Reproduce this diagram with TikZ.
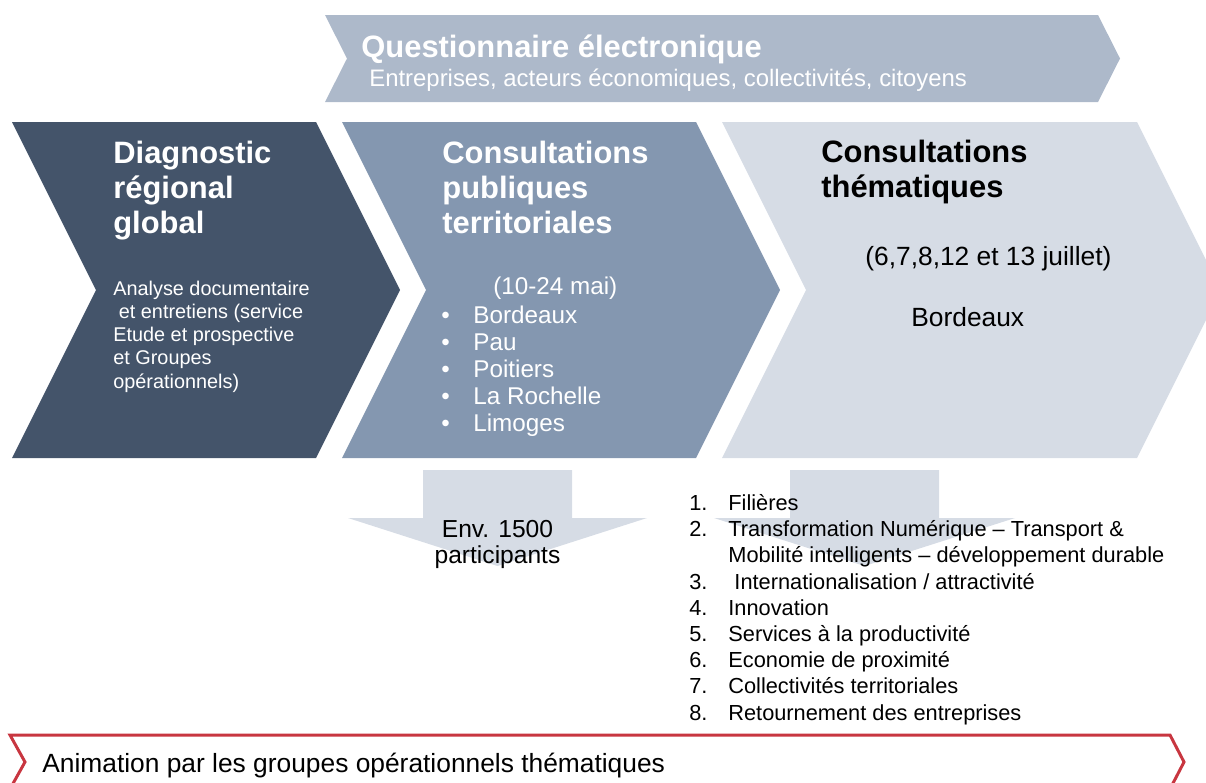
\documentclass[tikz,border=0pt]{standalone}
\usepackage{fontspec}
\setmainfont{Liberation Sans}

\definecolor{slatedark}{HTML}{44546A}
\definecolor{slatemid}{HTML}{8497B0}
\definecolor{slatepale}{HTML}{D6DCE5}
\definecolor{slatebanner}{HTML}{ADB9CA}
\definecolor{animred}{RGB}{200,54,64}

\begin{document}
\begin{tikzpicture}[x=0.02cm, y=-0.02cm,
  title/.style={font=\bfseries\fontsize{17.6}{19.8}\selectfont, align=left,
                anchor=base west, inner sep=0pt},
  body/.style={font=\fontsize{11.3}{13.2}\selectfont, align=left,
               anchor=base west, inner sep=0pt, text=white},
  city/.style={font=\fontsize{13.8}{15.3}\selectfont, anchor=base west,
               inner sep=0pt, text=white},
  theme/.style={font=\fontsize{12.4}{14.5}\selectfont, align=left,
                anchor=base west, inner sep=0pt},
  count/.style={font=\fontsize{14}{14.8}\selectfont, align=center,
                anchor=base, inner sep=0pt}
]
\useasboundingbox (0,0) rectangle (1206,782);
\clip (0,0) rectangle (1206,782);

% banner on top
\fill[slatebanner] (325,15) -- (1098,15) -- (1120,58.5) -- (1098,102)
  -- (325,102) -- (347,58.5) -- cycle;
\node[title, text=white] (quest) at (361,57) {Questionnaire électronique};
\node[font=\fontsize{13.6}{15}\selectfont, anchor=base west, inner sep=0pt,
  text=white] (questsub) at (369,86)
  {Entreprises, acteurs économiques, collectivités, citoyens};

% the three steps
\fill[slatedark] (12,122) -- (316,122) -- (400,290) -- (316,458)
  -- (12,458) -- (96,290) -- cycle;
\fill[slatemid] (342,122) -- (696,122) -- (780,290) -- (696,458)
  -- (342,458) -- (426,290) -- cycle;
\fill[slatepale] (722,122) -- (1137,122) -- (1221,290) -- (1137,458)
  -- (722,458) -- (806,290) -- cycle;

% step 1 (base = last line)
\node[title, text=white] (diag) at (113,233) {Diagnostic\\régional\\global};
\node[body] (diagtxt) at (113,388) {Analyse documentaire\\~et entretiens (service\\Etude et prospective\\et Groupes\\opérationnels)};

% step 2
\node[title, text=white] (consult) at (442,233) {Consultations\\publiques\\territoriales};
\node[city] (dates) at (493,294) {(10-24 mai)};
\foreach \city [count=\i, evaluate=\i as \yy using 323+27*(\i-1)] in
    {Bordeaux, Pau, Poitiers, La Rochelle, Limoges} {
  \node[city] (dot\i) at (441,\yy) {\textbullet};
  \node[city] (city\i) at (473,\yy) {\city};
}

% step 3
\node[title] (thema) at (821,197) {Consultations\\thématiques};
\node[city, text=black, font=\fontsize{15}{17}\selectfont] (thdates) at (865,265)
  {(6,7,8,12 et 13 juillet)};
\node[city, text=black, font=\fontsize{15}{17}\selectfont] (thbdx) at (911,326)
  {Bordeaux};

% down arrows
\fill[slatepale] (423,470) -- (572,470) -- (572,518) -- (647,518)
  -- (497.5,566) -- (348,518) -- (423,518) -- cycle;
\fill[slatepale] (790,470) -- (939,470) -- (939,518) -- (1015,518)
  -- (864.5,566) -- (714,518) -- (790,518) -- cycle;
\node[count] (env) at (497.5,563) {Env. 1500\\participants};

% themes
\foreach \n/\yy/\txt in {1/510/Filières,
    2/536/Transformation Numérique -- Transport \&,
    3/589/{\hspace{0.28em}Internationalisation / attractivité},
    4/615/Innovation, 5/641/Services à la productivité,
    6/667/Economie de proximité, 7/693/Collectivités territoriales,
    8/720/Retournement des entreprises} {
  \node[theme] (num\n) at (689,\yy) {\n.};
  \node[theme] (theme\n) at (728,\yy) {\txt};
}
\node[theme] (theme2b) at (728,562) {Mobilité intelligents -- développement durable};

% bottom band
\draw[animred, line width=1.7pt] (10,735) -- (1170,735) -- (1184,762)
  -- (1170,789) -- (10,789) -- (25,762) -- cycle;
\node[font=\fontsize{15}{17}\selectfont, anchor=base west, inner sep=0pt]
  (anim) at (42,772) {Animation par les groupes opérationnels thématiques};
\end{tikzpicture}
\end{document}
